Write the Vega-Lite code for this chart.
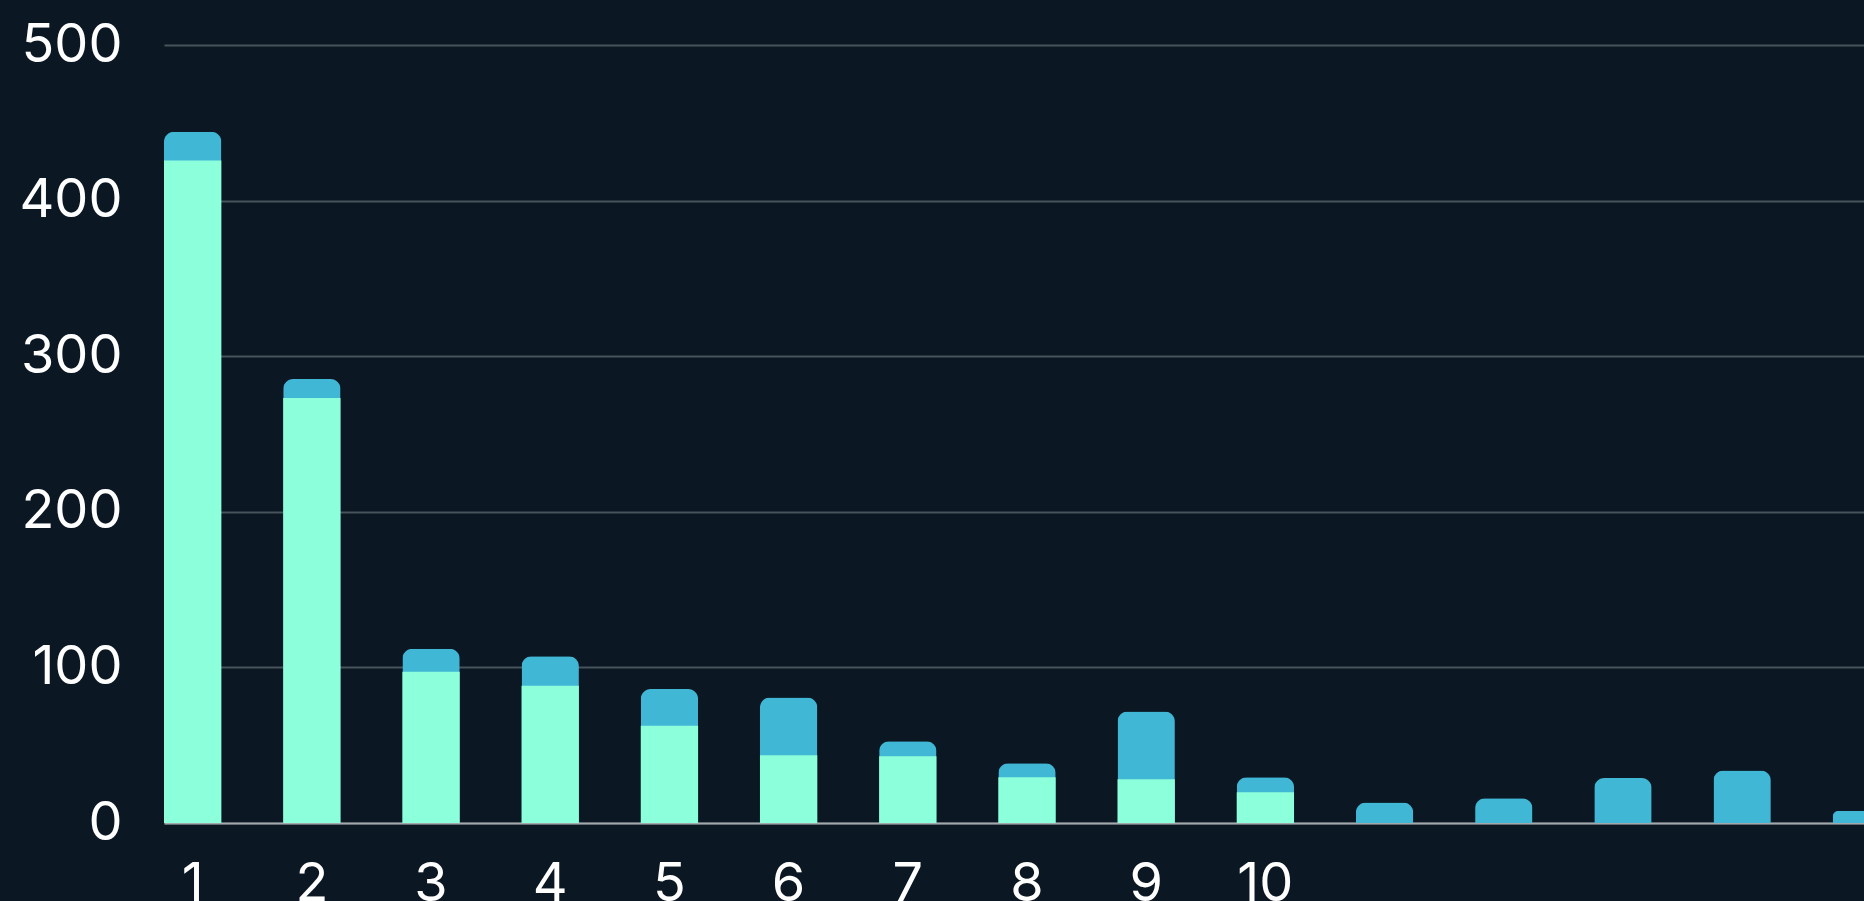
{
  "$schema": "https://vega.github.io/schema/vega-lite/v6.json",
  "width": 1700,
  "height": 778,
  "autosize": {"type": "none"},
  "padding": {"left": 164, "top": 45, "right": 0, "bottom": 78},
  "background": "#0b1823",
  "data": {
    "values": [
      {"rank": 1, "total": 444.3, "first": 425.8},
      {"rank": 2, "total": 285.3, "first": 273.1},
      {"rank": 3, "total": 112.0, "first": 97.2},
      {"rank": 4, "total": 107.1, "first": 88.2},
      {"rank": 5, "total": 86.1, "first": 62.5},
      {"rank": 6, "total": 80.7, "first": 43.6},
      {"rank": 7, "total": 52.6, "first": 42.9},
      {"rank": 8, "total": 38.4, "first": 29.4},
      {"rank": 9, "total": 71.7, "first": 28.1},
      {"rank": 10, "total": 29.4, "first": 19.7},
      {"rank": 11, "total": 13.1, "first": null},
      {"rank": 12, "total": 15.9, "first": null},
      {"rank": 13, "total": 28.9, "first": null},
      {"rank": 14, "total": 33.8, "first": null},
      {"rank": 15, "total": 7.9, "first": null}
    ]
  },
  "encoding": {
    "x": {
      "field": "rank",
      "type": "ordinal",
      "scale": {"type": "band", "range": [0, 1726], "paddingInner": 0.519, "paddingOuter": 0},
      "axis": {
        "title": null,
        "labelAngle": 0,
        "ticks": false,
        "tickSize": 0,
        "labelPadding": 34,
        "labelBaseline": "top",
        "domain": true,
        "domainColor": "#a3a8ab",
        "domainWidth": 2,
        "grid": false,
        "labelExpr": "datum.value <= 10 ? datum.label : ''"
      }
    }
  },
  "layer": [
    {
      "mark": {"type": "bar", "color": "#41b7d6", "cornerRadiusTopLeft": 10, "cornerRadiusTopRight": 10},
      "encoding": {
        "y": {
          "field": "total",
          "type": "quantitative",
          "scale": {"domain": [0, 500], "nice": false},
          "axis": {
            "title": null,
            "values": [0, 100, 200, 300, 400, 500],
            "domain": false,
            "ticks": false,
            "tickSize": 0,
            "labelPadding": 42,
            "grid": true,
            "gridColor": "#48535b",
            "gridWidth": 2
          }
        }
      }
    },
    {
      "mark": {"type": "bar", "color": "#8cffdb"},
      "encoding": {
        "y": {"field": "first", "type": "quantitative"}
      }
    }
  ],
  "config": {
    "view": {"stroke": null},
    "axis": {
      "labelFont": "Inter",
      "labelFontSize": 54,
      "labelFontWeight": "normal",
      "labelColor": "#ffffff"
    }
  }
}
